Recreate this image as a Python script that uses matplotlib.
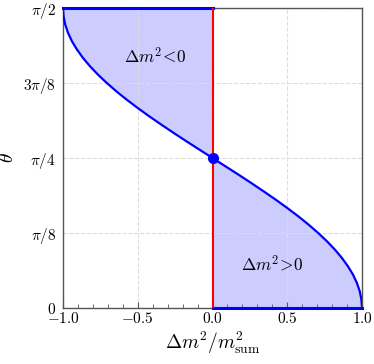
import numpy as np
import matplotlib
matplotlib.use("Agg")
import matplotlib.pyplot as plt

# Curve: angle theta (degrees) and x = Δm²/m²_sum
theta_deg = [0, 2.5, 5, 7.5, 10, 12.5, 15, 17.5, 20, 22.5, 25, 27.5, 30, 32.5,
             35, 37.5, 40, 42.5, 45, 47.5, 50, 52.5, 55, 57.5, 60, 62.5, 65,
             67.5, 70, 72.5, 75, 77.5, 80, 82.5, 85, 87.5, 90]
x_ratio = [1.000, 0.996, 0.985, 0.966, 0.940, 0.906, 0.866, 0.819, 0.766, 0.707,
           0.643, 0.574, 0.500, 0.423, 0.342, 0.259, 0.174, 0.087, 0.000,
           -0.087, -0.174, -0.259, -0.342, -0.423, -0.500, -0.574, -0.643,
           -0.707, -0.766, -0.819, -0.866, -0.906, -0.940, -0.966, -0.985,
           -0.996, -1.000]

point_x = [0.0]
point_theta_deg = [45]

xticks = [-1.0, -0.5, 0.0, 0.5, 1.0]
xtick_labels = [r'$-1.0$', r'$-0.5$', r'$0.0$', r'$0.5$', r'$1.0$']
yticks_deg = [0, 22.5, 45, 67.5, 90]
ytick_labels = [r'$0$', r'$\pi/8$', r'$\pi/4$', r'$3\pi/8$', r'$\pi/2$']

labels = [r'$\Delta m^2\!<\!0$', r'$\Delta m^2\!>\!0$']
label_pos = [(-0.385, 1.315), (0.40, 0.225)]

plt.rcParams['mathtext.fontset'] = 'cm'
plt.rcParams['font.family'] = 'serif'

theta = np.deg2rad(theta_deg)
x = np.array(x_ratio)

fig = plt.figure(figsize=(3.74, 3.64), dpi=100)
ax = fig.add_axes([63/374, 1 - 308/364, 299/374, 300/364])

ax.fill_betweenx(theta, x, 0, color='#ccccff', linewidth=0, zorder=1)
ax.plot(x, theta, color='blue', lw=1.6, zorder=3)
ax.plot([-1, 0], [np.pi/2, np.pi/2], color='blue', lw=2.2, zorder=3, clip_on=False)
ax.plot([0, 1], [0, 0], color='blue', lw=2.2, zorder=3, clip_on=False)
ax.axvline(0, color='red', lw=1.5, zorder=4)
ax.plot(point_x, np.deg2rad(point_theta_deg), 'o', color='blue', ms=7, zorder=5)

for lab, (px, py) in zip(labels, label_pos):
    ax.text(px, py, lab, ha='center', va='center', fontsize=12.5)

ax.set_xlim(-1, 1)
ax.set_ylim(0, np.pi/2)
ax.set_xticks(xticks)
ax.set_xticklabels(xtick_labels)
ax.set_xticks(np.arange(-1, 1.01, 0.1), minor=True)
ax.set_yticks(np.deg2rad(yticks_deg))
ax.set_yticklabels(ytick_labels)
ax.tick_params(axis='x', which='both', direction='in', length=3, color='#555555', labelsize=11, pad=2)
ax.tick_params(axis='x', which='major', length=4)
ax.tick_params(axis='y', length=0, labelsize=11, pad=5)
ax.grid(True, color='#dddddd', ls='--', lw=0.8, zorder=0)
for s in ax.spines.values():
    s.set_color('#555555')
    s.set_linewidth(1.0)

ax.set_xlabel(r'$\Delta m^2/m^2_{\rm sum}$', fontsize=14)
ax.xaxis.set_label_coords(0.5, -0.072)
ax.set_ylabel(r'$\theta$', fontsize=14)
ax.yaxis.set_label_coords(-0.155, 0.5)

fig.savefig('out.png', dpi=100)
